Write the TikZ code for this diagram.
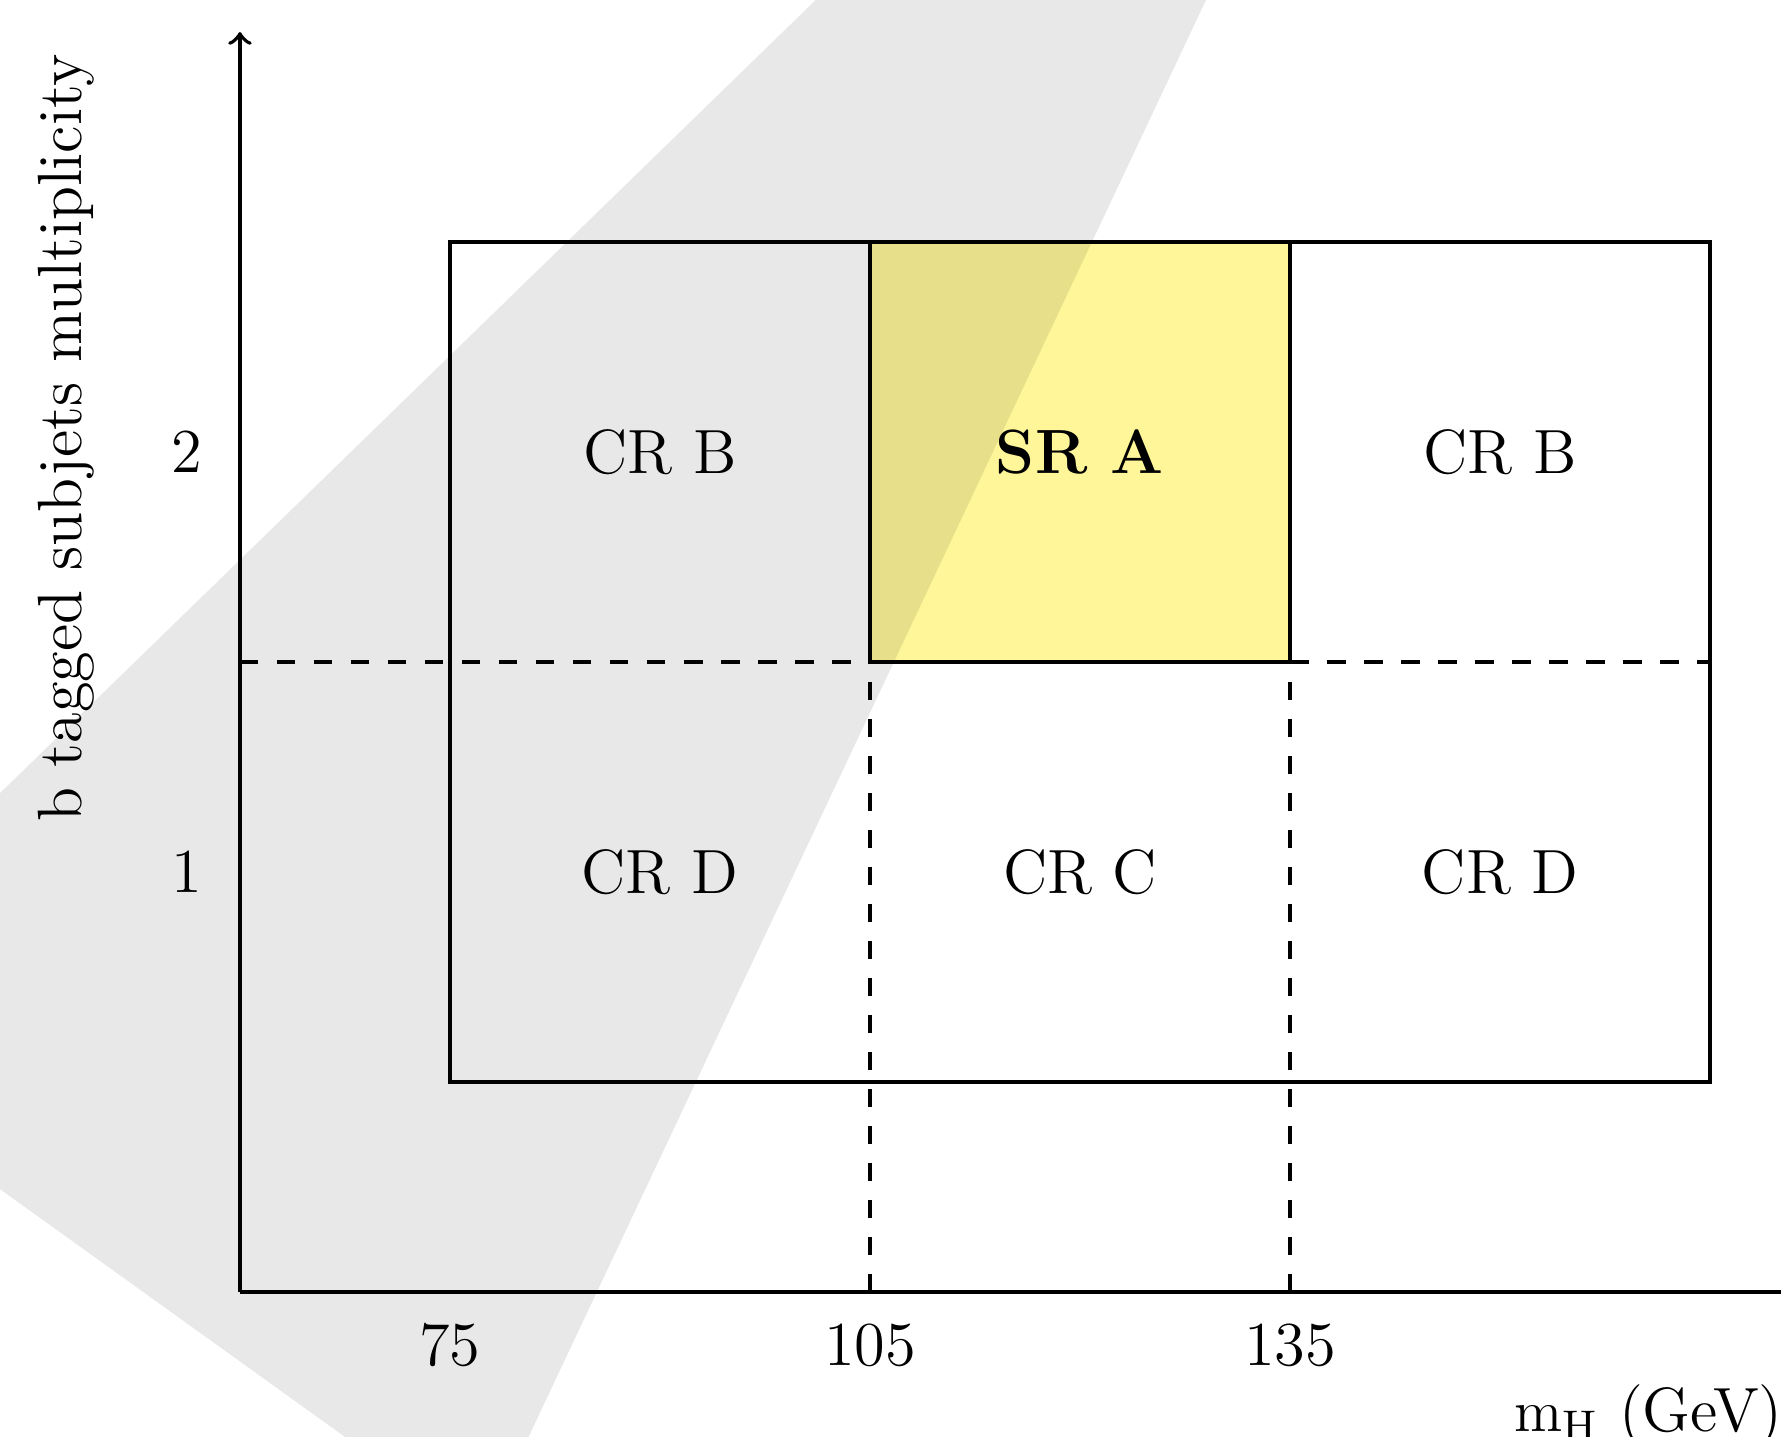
\documentclass[tikz,border=0pt]{standalone}
\definecolor{sryellow}{RGB}{255,246,153}
\begin{document}
\begin{tikzpicture}[
  x=1cm,y=1cm,
  axisline/.style={thick},
  boxline/.style={thick},
  dashline/.style={thick, dash pattern=on 3.76pt off 3.76pt},
  lbl/.style={font=\fontsize{12.7}{15}\selectfont, inner sep=0pt},
]
\useasboundingbox (-1.714,-1.0286) rectangle (11.007,9.229);
\begin{scope}
  \clip (-1.714,-1.0286) rectangle (11.007,9.229);
  \fill[sryellow] (4.5,4.5) rectangle (7.5,7.5);
  \fill[black, fill opacity=0.09] (7.028,9.5) -- (4.391,9.5) -- (-2,3.286) -- (-2,0.941) -- (1.120,-1.3) -- (1.936,-1.3) -- cycle;
  % axes
  \coordinate (O) at (0,0);
  \coordinate (ytop) at (0,9);
  \coordinate (xend) at (11.6,0);
  \draw[axisline,->] (O) -- (ytop);
  \draw[axisline,->] (O) -- (xend);
\end{scope}
% coordinates
\coordinate (r1) at (1.5,1.5);
\coordinate (r2) at (10.5,7.5);
\coordinate (s1) at (4.5,4.5);
\coordinate (s2) at (7.5,7.5);
\coordinate (dl0) at (0,4.5);
\coordinate (dr0) at (7.5,4.5);
\coordinate (dr1) at (10.5,4.5);
\coordinate (v1) at (4.5,0);
\coordinate (v2) at (7.5,0);
% boxes
\draw[boxline] (r1) rectangle (r2);
\draw[boxline] (s1) rectangle (s2);
% dashed lines
\draw[dashline] (dl0) -- (s1);
\draw[dashline] (dr0) -- (dr1);
\draw[dashline] (v1) -- (s1);
\draw[dashline] (v2) -- (dr0);
% region labels
\node[lbl] (crbL) at (3,6) {CR B};
\node[lbl] (sra) at (6,6) {\textbf{SR A}};
\node[lbl] (crbR) at (9,6) {CR B};
\node[lbl] (crdL) at (3,3) {CR D};
\node[lbl] (crc) at (6,3) {CR C};
\node[lbl] (crdR) at (9,3) {CR D};
% ticks
\node[lbl] (t75) at (1.5,-0.38) {75};
\node[lbl] (t105) at (4.5,-0.38) {105};
\node[lbl] (t135) at (7.5,-0.38) {135};
\node[lbl] (t2) at (-0.38,6) {2};
\node[lbl] (t1) at (-0.38,3) {1};
% axis labels
\node[lbl, rotate=90, anchor=base] (ylab) at (-1.129,6.1) {b tagged subjets multiplicity};
\node[lbl, anchor=base west] (xlab) at (9.093,-0.993) {$\mathrm{m_H}$ (GeV)};
\end{tikzpicture}
\end{document}
